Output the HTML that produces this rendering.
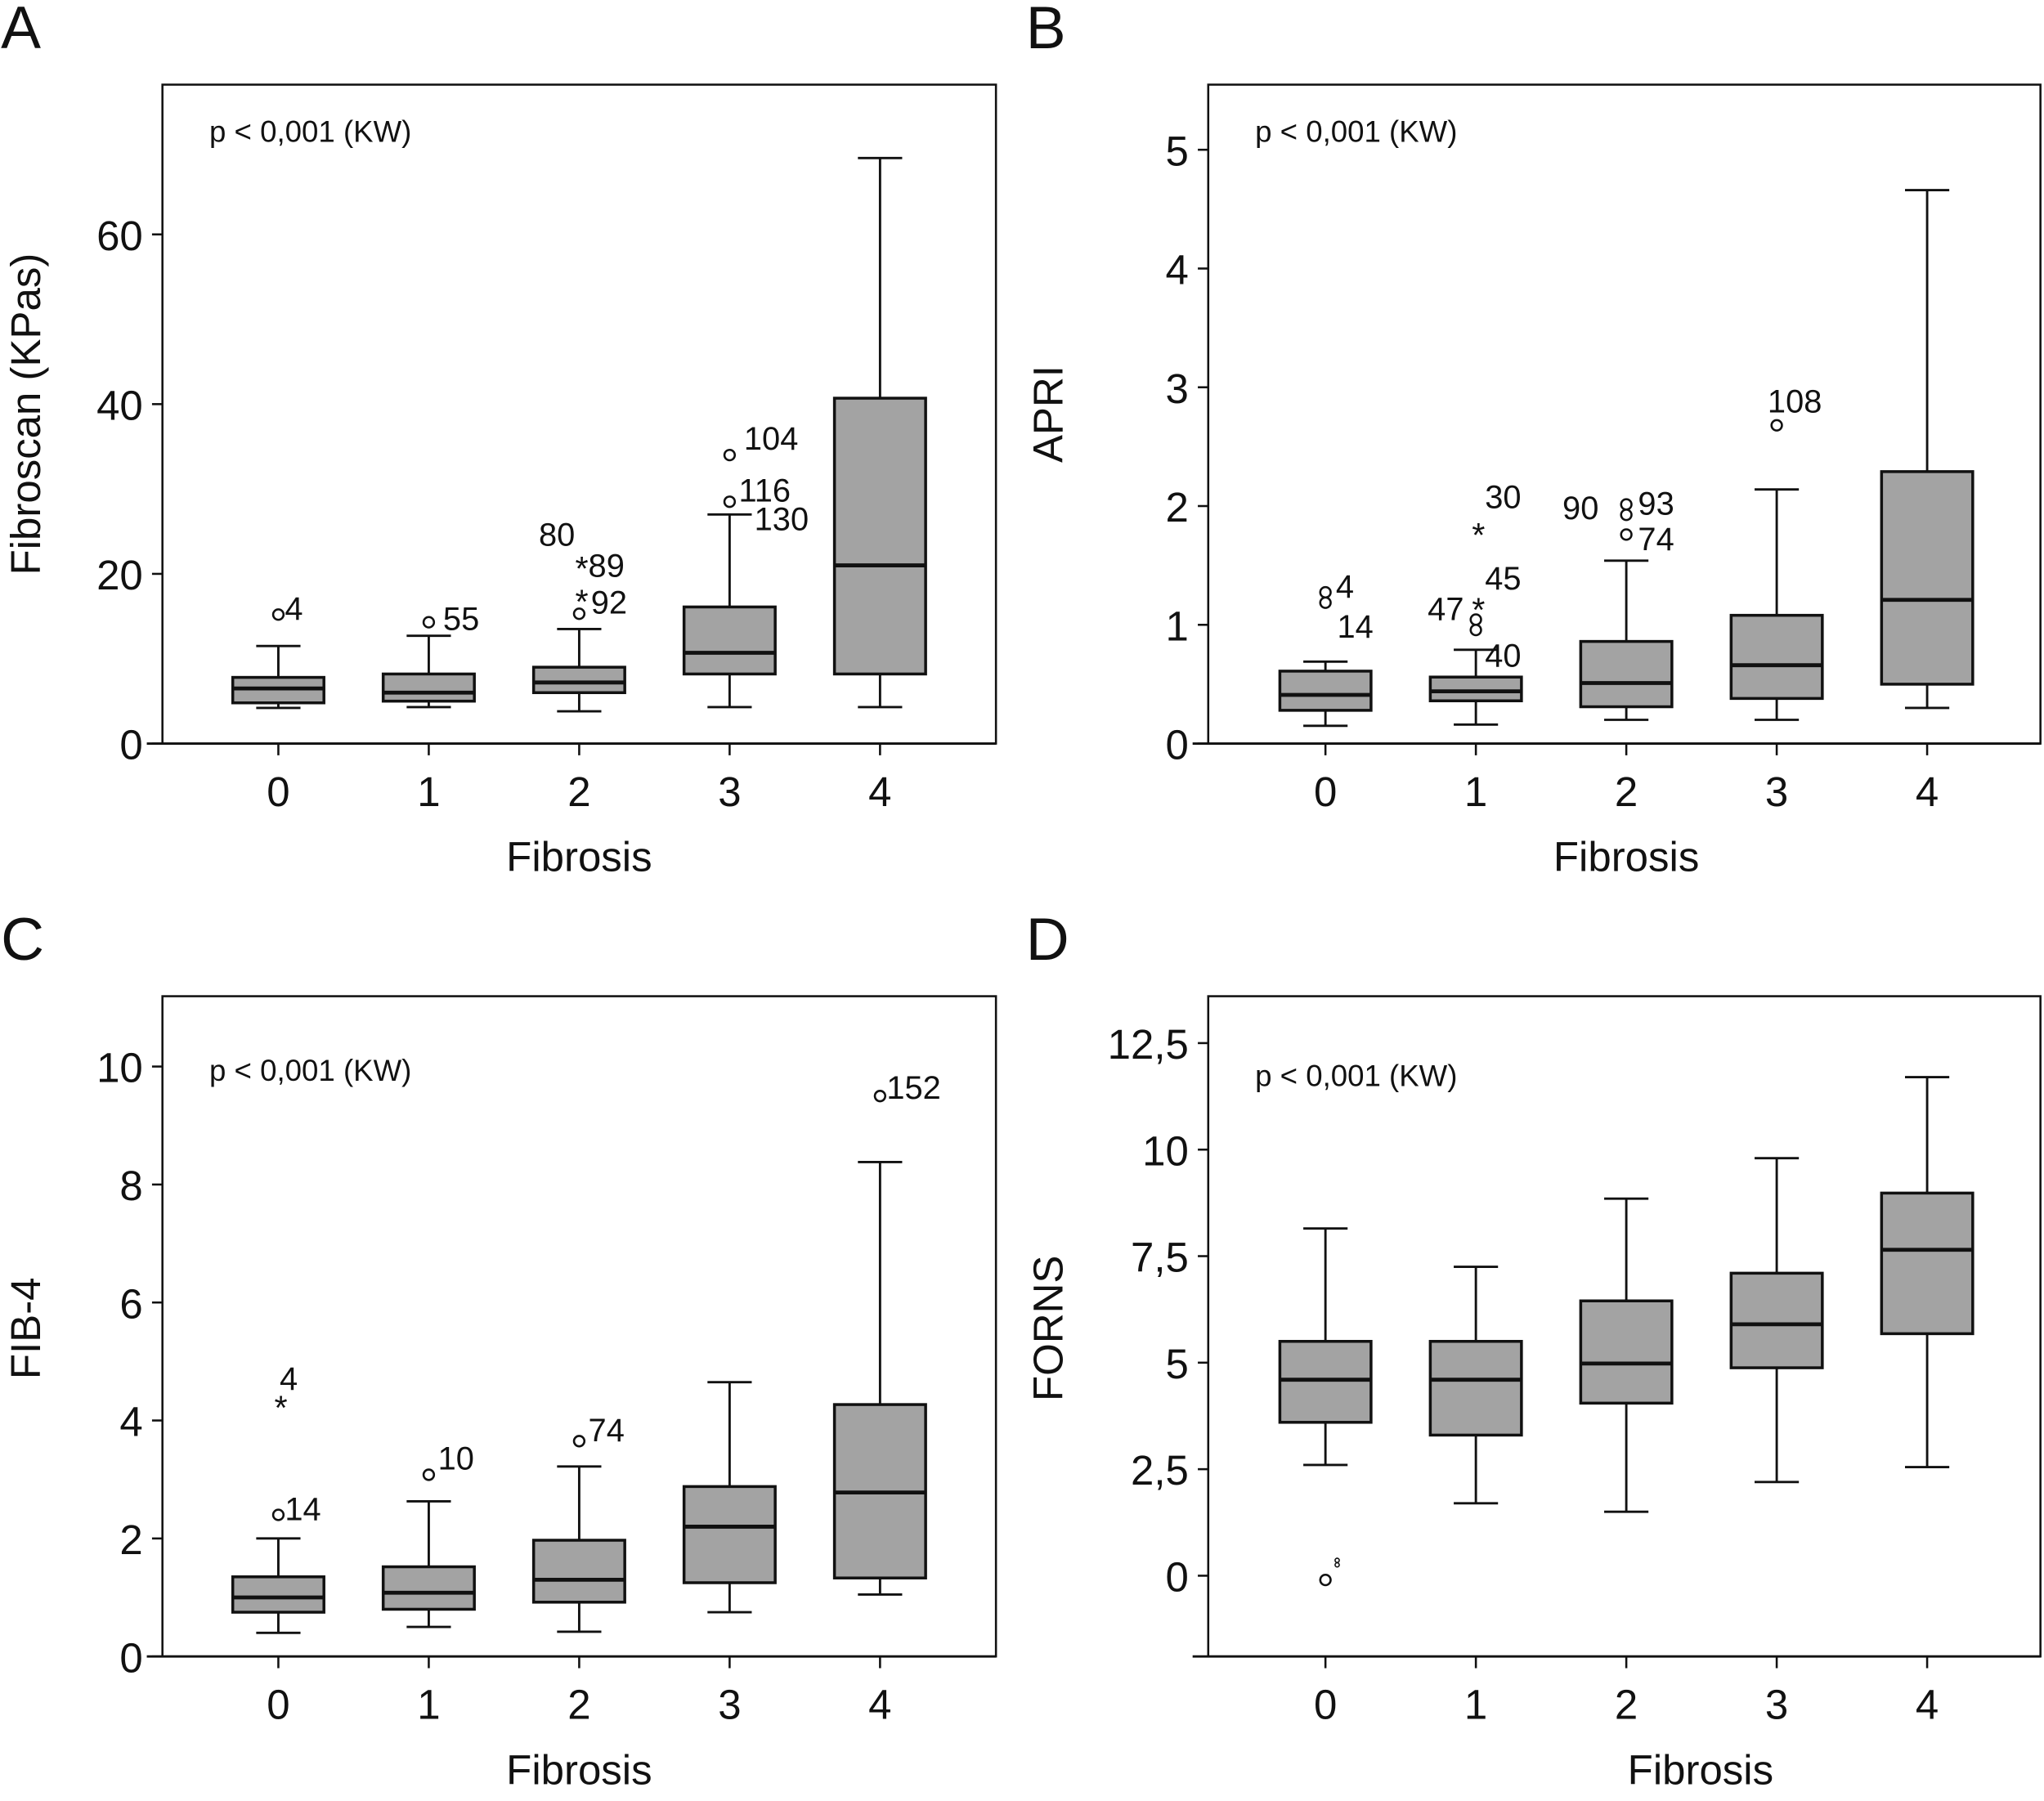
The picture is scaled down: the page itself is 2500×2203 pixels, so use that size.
<!DOCTYPE html>
<html><head><meta charset="utf-8">
<style>
html,body{margin:0;padding:0;background:#fff;}
svg{display:block;font-family:"Liberation Sans",sans-serif;}
</style></head>
<body>
<svg id="fig" width="2500" height="2203" viewBox="0 0 1568 1383" xmlns="http://www.w3.org/2000/svg"></svg>
<script>
// ---------- data ----------
const categories = ["0","1","2","3","4"];
// Panel A: Fibroscan
const fibLow = [4.2, 4.3, 3.8, 4.3, 4.3];
const fibQ1  = [4.8, 5.0, 6.0, 8.2, 8.2];
const fibMed = [6.5, 6.0, 7.2, 10.7, 21];
const fibQ3  = [7.8, 8.2, 9.0, 16.1, 40.7];
const fibHigh= [11.5, 12.7, 13.5, 27, 69];
const fibTicks = [0,20,40,60];
const fibTickLabels = ["0","20","40","60"];
// Panel B: APRI
const apriLow = [0.15, 0.16, 0.2, 0.2, 0.3];
const apriQ1  = [0.28, 0.36, 0.31, 0.38, 0.5];
const apriMed = [0.41, 0.44, 0.51, 0.66, 1.21];
const apriQ3  = [0.61, 0.56, 0.86, 1.08, 2.29];
const apriHigh= [0.69, 0.79, 1.54, 2.14, 4.66];
const apriTicks = [0,1,2,3,4,5];
const apriTickLabels = ["0","1","2","3","4","5"];
// Panel C: FIB-4
const fib4Low = [0.4, 0.5, 0.42, 0.75, 1.05];
const fib4Q1  = [0.75, 0.8, 0.92, 1.25, 1.33];
const fib4Med = [1.0, 1.08, 1.3, 2.2, 2.78];
const fib4Q3  = [1.35, 1.52, 1.97, 2.88, 4.27];
const fib4High= [2.0, 2.63, 3.22, 4.65, 8.38];
const fib4Ticks = [0,2,4,6,8,10];
const fib4TickLabels = ["0","2","4","6","8","10"];
// Panel D: FORNS
const fornsLow = [2.6, 1.7, 1.5, 2.2, 2.55];
const fornsQ1  = [3.6, 3.3, 4.05, 4.88, 5.68];
const fornsMed = [4.6, 4.6, 4.98, 5.9, 7.65];
const fornsQ3  = [5.5, 5.5, 6.45, 7.1, 8.98];
const fornsHigh= [8.15, 7.25, 8.85, 9.8, 11.7];
const fornsTicks = [0,2.5,5,7.5,10,12.5];
const fornsTickLabels = ["0","2,5","5","7,5","10","12,5"];
// outliers: [category, value, kind('o','*','oo'), label, labelDx, labelDy]
const fibOutliers = [[0,15.2,'o','4',0,-6],[1,14.3,'o','55',6,-4],[2,15.3,'o','92',4,-10],[2,17.3,'*','',0,0],[2,21.2,'*','89',2,0],[3,28.5,'o','116',2,-10],[3,34,'o','104',6,-14],[3,27,'','130',14,2],[2,23,'','80',-36,-12]];
const apriOutliers = [[0,1.23,'oo','4',3,-10],[0,1.0,'','14',4,0],[1,1.0,'oo','',0,0],[1,1.17,'*','47',-42,2],[1,1.8,'*','',0,0],[1,1.45,'','45',2,4],[1,2.05,'','30',2,-4],[1,0.8,'','40',2,4],[2,1.97,'oo','93',4,-6],[2,2.0,'','90',-54,0],[2,1.76,'o','74',4,2],[3,2.68,'o','108',-12,-20]];
const fib4Outliers = [[0,2.4,'o','14',0,-6],[0,4.3,'*','4',-4,-20],[1,3.08,'o','10',2,-14],[2,3.65,'o','74',2,-10],[4,9.5,'o','152',0,-8]];
const fornsOutliers = [[0,-0.1,'o','',0,0]];

const svg = document.getElementById('fig');
const NS = 'http://www.w3.org/2000/svg';
function mk(tag, attrs, parent){ const e=document.createElementNS(NS,tag); for(const k in attrs) e.setAttribute(k,attrs[k]); (parent||svg).appendChild(e); return e; }

function panel(o){
  const g = mk('g',{});
  
  
  const L=o.x0, R=o.x1, T=o.y0, B=o.y1;
  const yScale = v => o.py0 + v * (o.py1 - o.py0) / o.v1;
  const catX = i => o.cx0 + i * o.cdx;
  const fr = mk('rect',{x:L,y:T,width:R-L,height:B-T,fill:'none',stroke:'#111','stroke-width':1.6},g);
   
  const xa = mk('line',{x1:L-12,y1:B,x2:R,y2:B,stroke:'#111','stroke-width':1.8},g);
   
  o.ticks.forEach((t,i)=>{
    const y=yScale(t);
    const tl=mk('line',{x1:L-8,y1:y,x2:L,y2:y,stroke:'#111','stroke-width':1.6},g);
     
    const tx=mk('text',{x:L-15,y:y+12,'text-anchor':'end','font-size':32,fill:'#111'},g);
    tx.textContent=o.tickLabels[i];
     
  });
  categories.forEach((c,i)=>{
    const x=catX(i);
    const tl=mk('line',{x1:x,y1:B,x2:x,y2:B+9,stroke:'#111','stroke-width':1.6},g);
     
    const tx=mk('text',{x:x,y:B+48,'text-anchor':'middle','font-size':32,fill:'#111'},g);
    tx.textContent=c;
     
  });
  const bw=70, cw=34;
  categories.forEach((c,i)=>{
    const x=catX(i);
    const bg=mk('g',{},g);
     
    const yl=yScale(o.low[i]), yh=yScale(o.high[i]), y1=yScale(o.q1[i]), y3=yScale(o.q3[i]), ym=yScale(o.med[i]);
    mk('line',{x1:x,y1:yl,x2:x,y2:y1,stroke:'#111','stroke-width':1.8},bg);
    mk('line',{x1:x,y1:y3,x2:x,y2:yh,stroke:'#111','stroke-width':1.8},bg);
    mk('line',{x1:x-cw/2,y1:yl,x2:x+cw/2,y2:yl,stroke:'#111','stroke-width':1.8},bg);
    mk('line',{x1:x-cw/2,y1:yh,x2:x+cw/2,y2:yh,stroke:'#111','stroke-width':1.8},bg);
    mk('rect',{x:x-bw/2,y:y3,width:bw,height:y1-y3,fill:'#a3a3a3',stroke:'#111','stroke-width':2.2},bg);
    mk('line',{x1:x-bw/2,y1:ym,x2:x+bw/2,y2:ym,stroke:'#111','stroke-width':3},bg);
  });
  o.outliers.forEach(p=>{
    const x=catX(p[0]), y=yScale(p[1]);
    if(p[2]==='o'){
      const c=mk('circle',{cx:x,cy:y,r:4,fill:'#fff',stroke:'#111','stroke-width':1.6},g);
       
    } else if(p[2]==='oo'){
      const c=mk('circle',{cx:x,cy:y-4,r:4,fill:'#fff',stroke:'#111','stroke-width':1.6},g);
       
      const c2=mk('circle',{cx:x,cy:y+4,r:4,fill:'#fff',stroke:'#111','stroke-width':1.6},g);
       
    } else if(p[2]==='*'){
      const s=mk('text',{x:x+2,y:y+13,'text-anchor':'middle','font-size':26,fill:'#111'},g);
      s.textContent='*';
       
    }
    if(p[3]){
      const t=mk('text',{x:x+p[4]+5,y:y+p[5]+10,'font-size':25,fill:'#111'},g);
      t.textContent=p[3];
       
    }
  });
  if(o.extra) o.extra(g, catX, yScale);
  const pt=mk('text',{x:o.px,y:o.py,'font-size':23,fill:'#111'},g);
  pt.textContent='p < 0,001 (KW)';
   
  const yt=mk('text',{x:0,y:0,'text-anchor':'middle','font-size':32,fill:'#111',transform:`translate(${o.ytx},${o.yty}) rotate(-90)`},g);
  yt.textContent=o.ytitle;
   
  const xt=mk('text',{x:o.xtx,y:B+98,'text-anchor':'middle','font-size':32,fill:'#111'},g);
  xt.textContent='Fibrosis';
   
  const lt=mk('text',{x:o.lx,y:o.ly,'font-size':46,fill:'#111'},g);
  lt.textContent=o.letter;
   
}

panel({name:'panel-a-fibroscan',x0:124,x1:764,y0:65,y1:571,cx0:213,cdx:115.5,py0:571,py1:180,v1:60,
  ticks:fibTicks,tickLabels:fibTickLabels,low:fibLow,q1:fibQ1,med:fibMed,q3:fibQ3,high:fibHigh,outliers:fibOutliers,
  px:160,py:109,ytitle:'Fibroscan (KPas)',ytx:30,yty:318,xtx:444,letter:'A',lx:0,ly:37});
panel({name:'panel-b-apri',x0:927,x1:1566,y0:65,y1:571,cx0:1017,cdx:115.5,py0:571,py1:115,v1:5,
  ticks:apriTicks,tickLabels:apriTickLabels,low:apriLow,q1:apriQ1,med:apriMed,q3:apriQ3,high:apriHigh,outliers:apriOutliers,
  px:963,py:109,ytitle:'APRI',ytx:815,yty:318,xtx:1248,letter:'B',lx:787,ly:37});
panel({name:'panel-c-fib4',x0:124,x1:764,y0:765,y1:1272,cx0:213,cdx:115.5,py0:1272,py1:819,v1:10,
  ticks:fib4Ticks,tickLabels:fib4TickLabels,low:fib4Low,q1:fib4Q1,med:fib4Med,q3:fib4Q3,high:fib4High,outliers:fib4Outliers,
  px:160,py:830,ytitle:'FIB-4',ytx:30,yty:1020,xtx:444,letter:'C',lx:0,ly:737});
panel({name:'panel-d-forns',x0:927,x1:1566,y0:765,y1:1272,cx0:1017,cdx:115.5,py0:1210,py1:801,v1:12.5,
  ticks:fornsTicks,tickLabels:fornsTickLabels,low:fornsLow,q1:fornsQ1,med:fornsMed,q3:fornsQ3,high:fornsHigh,outliers:fornsOutliers,
  px:963,py:834,ytitle:'FORNS',ytx:815,yty:1020,xtx:1305,letter:'D',lx:787,ly:737,
  extra:(g,catX,yScale)=>{
    const c=mk('circle',{cx:catX(0)+9,cy:yScale(0.3)-2,r:1.6,fill:'none',stroke:'#111','stroke-width':1},g);
     
    const c2=mk('circle',{cx:catX(0)+9,cy:yScale(0.3)+1.5,r:1.6,fill:'none',stroke:'#111','stroke-width':1},g);
     
  }});
</script>
</body></html>
